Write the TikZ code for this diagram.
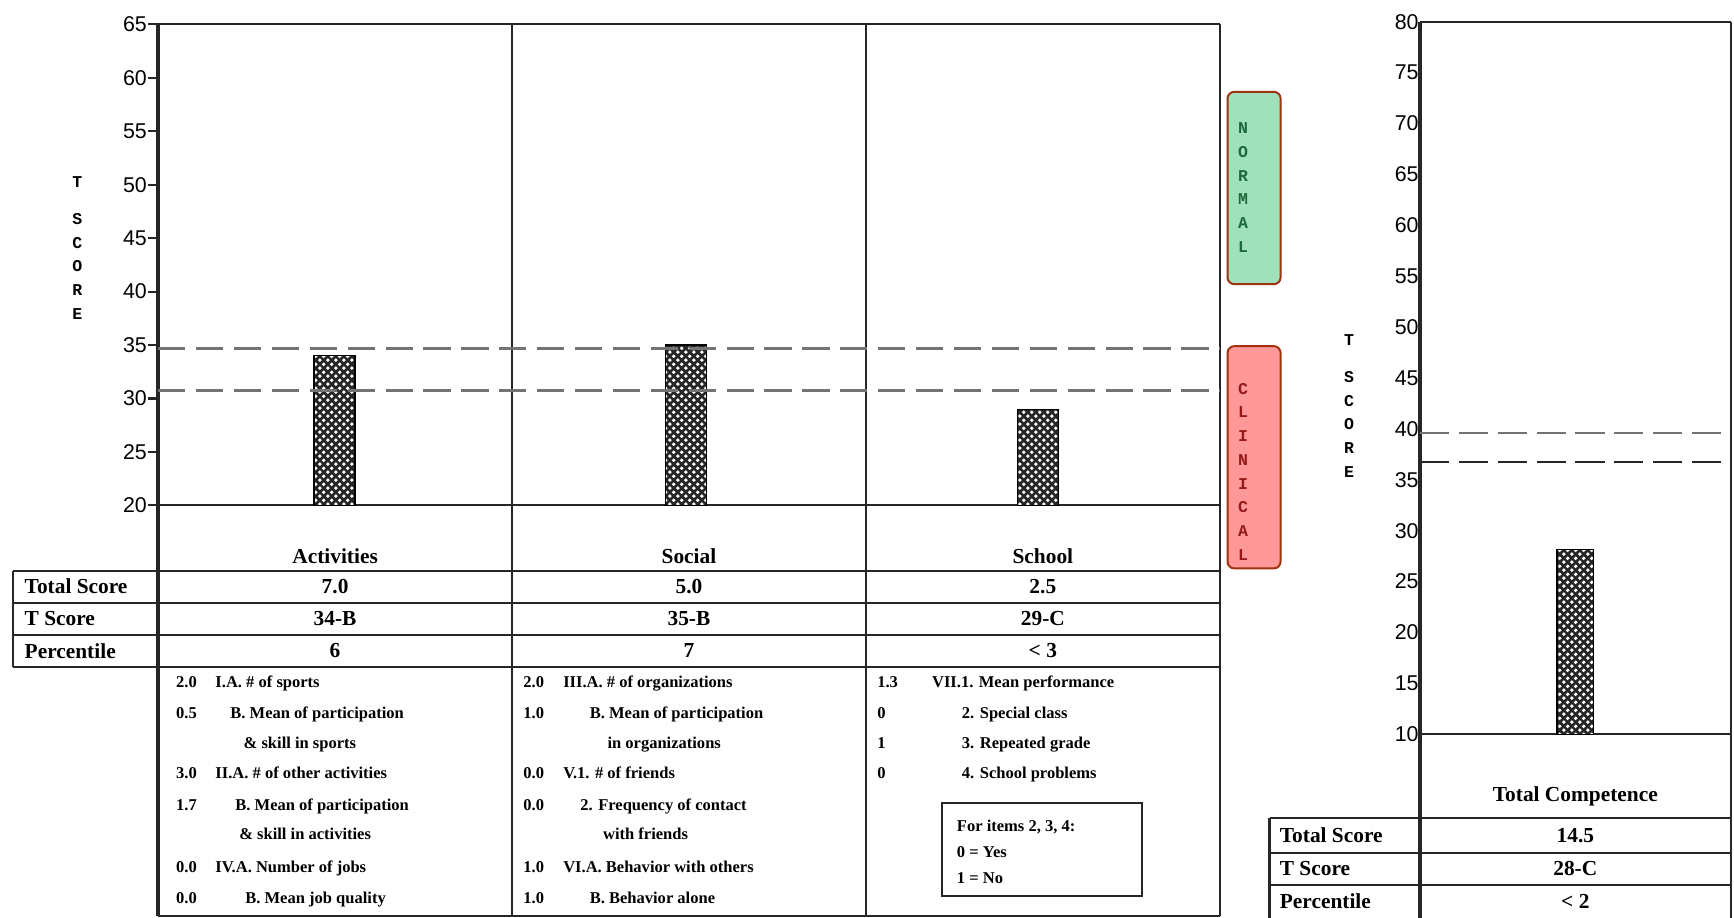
\documentclass[tikz,border=0pt]{standalone}
\usepackage{fontspec}
\setmainfont{Liberation Serif}
\newfontfamily\axisfont{Liberation Sans}
\newfontfamily\letterfont{Liberation Mono}
\usetikzlibrary{patterns}

\pgfdeclarepatternformonly{bardots}{\pgfqpoint{0pt}{0pt}}{\pgfqpoint{4pt}{4pt}}{\pgfqpoint{4pt}{4pt}}{%
  \pgfpathcircle{\pgfqpoint{1pt}{1pt}}{1pt}%
  \pgfpathcircle{\pgfqpoint{3pt}{3pt}}{1pt}%
  \pgfusepath{fill}}

\definecolor{normalfill}{RGB}{158,225,186}
\definecolor{clinicalfill}{RGB}{255,153,153}
\definecolor{zoneedge}{RGB}{160,50,15}
\definecolor{normaltext}{RGB}{30,105,60}
\definecolor{clinicaltext}{RGB}{150,25,25}

\tikzset{
  gridline/.style={black!85, line width=1.1pt},
  axisline/.style={black!85, line width=1.7pt},
  cutoff/.style={black!55, line width=1.6pt, dash pattern=on 14pt off 5.5pt},
  scorebar/.style={preaction={fill=black!85}, pattern=bardots, pattern color=white, draw=black, line width=0.6pt},
  ticklabel/.style={anchor=east, inner sep=0.5pt, font=\axisfont\fontsize{11}{13}\selectfont},
  rowname/.style={anchor=west, inner sep=0pt, font=\fontsize{11}{13}\selectfont\bfseries},
  cellval/.style={inner sep=0pt, font=\fontsize{11}{13}\selectfont\bfseries},
  detail/.style={anchor=west, inner sep=0pt, text height=1.6ex, text depth=0.4ex, font=\fontsize{8.5}{10}\selectfont\bfseries},
  letters/.style={align=center, inner sep=0pt, font=\letterfont\bfseries\fontsize{8.5}{12.2}\selectfont},
  zonebox/.style={draw=zoneedge, line width=1pt, rounded corners=3.5pt}
}

\begin{document}
\begin{tikzpicture} [x=0.2mm, y=-0.2mm]
\useasboundingbox (0,0) rectangle (1568,830);

% left chart
\draw [gridline] (143,22) -- (1103,22);
\draw [gridline] (143,457) -- (1103,457);
\draw [gridline] (463,22) -- (463,828);
\draw [gridline] (783,22) -- (783,828);
\draw [gridline] (1103,22) -- (1103,828);
\draw [gridline] (143,828) -- (1103,828);
\draw [axisline] (143,22) -- (143,828);
\foreach \v in {20,25,...,65} {
  \draw [gridline] (134,{457-(\v-20)*9.667}) -- (143,{457-(\v-20)*9.667});
  \node [ticklabel] (lt\v) at (134,{457-(\v-20)*9.667}) {\v};
}
\node [letters] (tscoreL) at (70,224) {T\\[7pt]S\\C\\O\\R\\E};

\draw [scorebar] (284,457) rectangle (321,321.7);
\draw [scorebar] (602,457) rectangle (639,312);
\draw [scorebar] (920,457) rectangle (957,370);
\draw [cutoff] (143,315) -- (1103,315);
\draw [cutoff] (143,353) -- (1103,353);

% zones
\draw [zonebox, fill=normalfill] (1110,83) rectangle (1158,257);
\draw [zonebox, fill=clinicalfill] (1110,313) rectangle (1158,514);
\node [letters, text=normaltext] (normal) at (1124,169.5) {N\\O\\R\\M\\A\\L};
\node [letters, text=clinicaltext] (clinical) at (1124,426.5) {C\\L\\I\\N\\I\\C\\A\\L};

% left table
\draw [gridline] (12,516) -- (1103,516);
\draw [gridline] (12,545) -- (1103,545);
\draw [gridline] (12,574) -- (1103,574);
\draw [gridline] (12,603) -- (1103,603);
\draw [gridline] (12,516) -- (12,603);
\node [cellval] (act) at (303,503) {Activities};
\node [cellval] (soc) at (623,503) {Social};
\node [cellval] (sch) at (943,503) {School};
\node [rowname] (tot) at (22,530.5) {Total Score};
\node [rowname] (tsc) at (22,559.5) {T Score};
\node [rowname] (pct) at (22,588.5) {Percentile};
\node [cellval] (acttot) at (303,530.5) {7.0};
\node [cellval] (acttsc) at (303,559.5) {34-B};
\node [cellval] (actpct) at (303,588.5) {6};
\node [cellval] (soctot) at (623,530.5) {5.0};
\node [cellval] (soctsc) at (623,559.5) {35-B};
\node [cellval] (socpct) at (623,588.5) {7};
\node [cellval] (schtot) at (943,530.5) {2.5};
\node [cellval] (schtsc) at (943,559.5) {29-C};
\node [cellval] (schpct) at (943,588.5) {< 3};

% activities items
\node [detail] (a1v) at (159,616.5) {2.0};
\node [detail] (a1t) at (194.5,616.5) {I.A. \# of sports};
\node [detail] (a2v) at (159,645) {0.5};
\node [detail] (a2t) at (208,645) {B. Mean of participation};
\node [detail] (a3t) at (220,672) {\& skill in sports};
\node [detail] (a4v) at (159,699) {3.0};
\node [detail] (a4t) at (194.5,699) {II.A. \# of other activities};
\node [detail] (a5v) at (159,728) {1.7};
\node [detail] (a5t) at (212.5,728) {B. Mean of participation};
\node [detail] (a6t) at (216,754) {\& skill in activities};
\node [detail] (a7v) at (159,784) {0.0};
\node [detail] (a7t) at (194.5,784) {IV.A. Number of jobs};
\node [detail] (a8v) at (159,812) {0.0};
\node [detail] (a8t) at (221.5,812) {B. Mean job quality};

% social items
\node [detail] (s1v) at (473,616.5) {2.0};
\node [detail] (s1t) at (509,616.5) {III.A. \# of organizations};
\node [detail] (s2v) at (473,645) {1.0};
\node [detail] (s2t) at (533,645) {B. Mean of participation};
\node [detail] (s3t) at (549,672) {in organizations};
\node [detail] (s4v) at (473,699) {0.0};
\node [detail] (s4t) at (509,699) {V.1. \# of friends};
\node [detail] (s5v) at (473,728) {0.0};
\node [detail] (s5t) at (524.5,728) {2. Frequency of contact};
\node [detail] (s6t) at (545,754) {with friends};
\node [detail] (s7v) at (473,784) {1.0};
\node [detail] (s7t) at (509,784) {VI.A. Behavior with others};
\node [detail] (s8v) at (473,812) {1.0};
\node [detail] (s8t) at (533,812) {B. Behavior alone};

% school items
\node [detail] (c1v) at (793,616.5) {1.3};
\node [detail] (c1t) at (842.5,616.5) {VII.1. Mean performance};
\node [detail] (c2v) at (793,645) {0};
\node [detail] (c2t) at (869.5,645) {2. Special class};
\node [detail] (c3v) at (793,672) {1};
\node [detail] (c3t) at (869.5,672) {3. Repeated grade};
\node [detail] (c4v) at (793,699) {0};
\node [detail] (c4t) at (869.5,699) {4. School problems};
\draw [gridline] (852,726) rectangle (1033,810);
\node [anchor=west, inner sep=0pt, align=left, font=\fontsize{8.5}{13.4}\selectfont\bfseries] (legend) at (865,770) {For items 2, 3, 4:\\0 = Yes\\1 = No};

% right chart
\draw [gridline] (1284,19.6) -- (1565,19.6);
\draw [gridline] (1284,664) -- (1565,664);
\draw [gridline] (1565,19.6) -- (1565,830);
\draw [axisline] (1284,19.6) -- (1284,830);
\foreach \v in {10,15,...,80} {
  \node [ticklabel] (rt\v) at (1284,{664-(\v-10)*9.206}) {\v};
}
\node [letters] (tscoreR) at (1220,367) {T\\[7pt]S\\C\\O\\R\\E};
\draw [scorebar] (1408,664) rectangle (1441,497);
\draw [cutoff, line width=1.2pt, dash pattern=on 15pt off 5pt] (1284,391.8) -- (1565,391.8);
\draw [cutoff, black!85, line width=1.2pt, dash pattern=on 15pt off 5pt] (1284,417.5) -- (1565,417.5);

% right table
\draw [gridline] (1148,740) -- (1565,740);
\draw [gridline] (1148,771) -- (1565,771);
\draw [gridline] (1148,800) -- (1565,800);
\draw [gridline] (1148,740) -- (1148,830);
\node [cellval] (comp) at (1424.5,720) {Total Competence};
\node [rowname] (rtot) at (1157,755.5) {Total Score};
\node [rowname] (rtsc) at (1157,785.5) {T Score};
\node [rowname] (rpct) at (1157,815) {Percentile};
\node [cellval] (comptot) at (1424.5,755.5) {14.5};
\node [cellval] (comptsc) at (1424.5,785.5) {28-C};
\node [cellval] (comppct) at (1424.5,815) {< 2};

\end{tikzpicture}
\end{document}
